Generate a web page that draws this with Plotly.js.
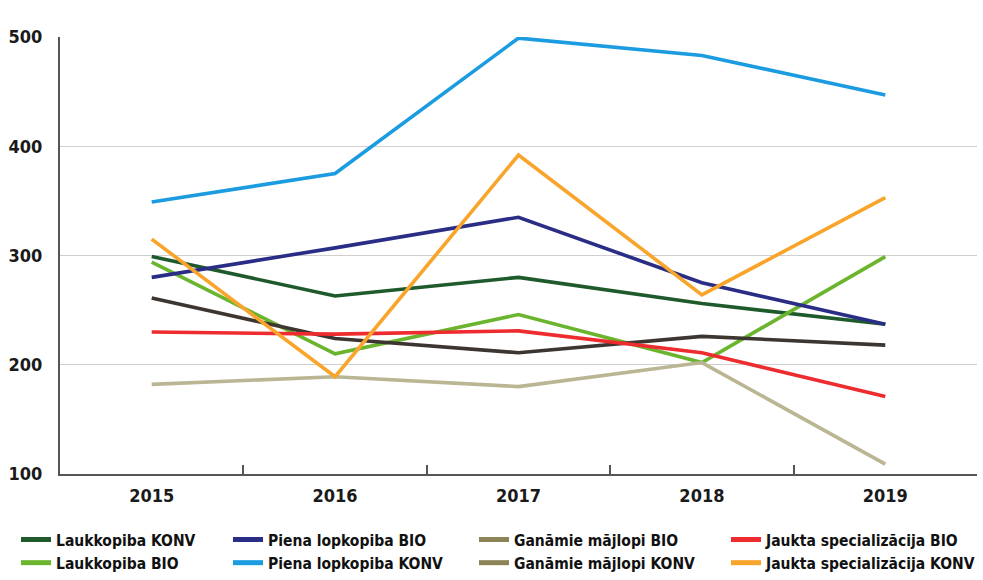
<!DOCTYPE html>
<html>
<head>
<meta charset="utf-8">
<script src="https://cdn.plot.ly/plotly-3.0.1.min.js"></script>
<style>html,body{margin:0;padding:0;background:#fff;}#chart{width:983px;height:580px;}</style>
</head>
<body>
<div id="chart"></div>
<script>
const years = ['2015', '2016', '2017', '2018', '2019'];

const laukkopibaKONV = [299, 263, 280, 256, 237];
const laukkopibaBIO = [294, 210, 246, 202, 299];
const pienaBIO = [280, 307, 335, 275, 237];
const pienaKONV = [349, 375, 499, 483, 447];
const ganamieBIO = [261, 224, 211, 226, 218];
const ganamieKONV = [182, 189, 180, 202, 109];
const jauktaBIO = [230, 228, 231, 211, 171];
const jauktaKONV = [315, 189, 392, 264, 353];

const seriesNames = [
  'Laukkopiba KONV', 'Laukkopiba BIO',
  'Piena lopkopiba BIO', 'Piena lopkopiba KONV',
  'Ganāmie mājlopi BIO', 'Ganāmie mājlopi KONV',
  'Jaukta specializācija BIO', 'Jaukta specializācija KONV'
];
const seriesData = [laukkopibaKONV, laukkopibaBIO, pienaBIO, pienaKONV, ganamieBIO, ganamieKONV, jauktaBIO, jauktaKONV];
const lineColors = ['#1f5a2c', '#6bb52e', '#2a2d85', '#1b9be0', '#3d3530', '#bab693', '#ee2b2e', '#f9a42b'];
const legendColors = ['#1f5a2c', '#6bb52e', '#2a2d85', '#1b9be0', '#8a8457', '#8a8457', '#ee2b2e', '#f9a42b'];
const legendIds = ['legend', 'legend', 'legend2', 'legend2', 'legend3', 'legend3', 'legend4', 'legend4'];

const font = '"DejaVu Sans Condensed", "DejaVu Sans", sans-serif';

const traces = [];
seriesData.forEach((d, i) => {
  traces.push({
    x: years, y: d, type: 'scatter', mode: 'lines',
    line: {color: lineColors[i], width: 3.6},
    showlegend: false, hoverinfo: 'skip'
  });
});
seriesNames.forEach((n, i) => {
  traces.push({
    x: [null], y: [null], type: 'scatter', mode: 'lines', name: n,
    line: {color: legendColors[i], width: 5}, showlegend: true, legend: legendIds[i]
  });
});

function legendAt(px) {
  return {
    orientation: 'v', x: (px - 60) / 917, xanchor: 'left', y: -0.112, yanchor: 'top',
    font: {family: font, size: 15.5, color: '#111', weight: 'bold'},
    itemwidth: 30, traceorder: 'normal', tracegroupgap: 0, bgcolor: 'rgba(0,0,0,0)'
  };
}

const layout = {
  width: 983, height: 580,
  margin: {l: 60, r: 6, t: 37, b: 106, autoexpand: false},
  paper_bgcolor: '#fff', plot_bgcolor: '#fff',
  font: {family: font, color: '#1a1a1a', size: 17},
  xaxis: {
    type: 'category', range: [-0.5, 4.5],
    showgrid: false, showline: true, linecolor: '#555', linewidth: 2,
    ticks: 'inside', tickson: 'boundaries', ticklen: 9, tickcolor: '#555', tickwidth: 2,
    tickfont: {family: font, size: 18, color: '#1a1a1a', weight: 'bold'},
    zeroline: false, automargin: false, ticklabelstandoff: 4
  },
  yaxis: {
    range: [100, 500], tickvals: [100, 200, 300, 400, 500],
    showgrid: true, gridcolor: '#cfcfcf', gridwidth: 1.2,
    showline: true, linecolor: '#555', linewidth: 2, ticks: '',
    tickfont: {family: font, size: 18, color: '#1a1a1a', weight: 'bold'},
    zeroline: false, ticklabelstandoff: 12, automargin: false
  },
  showlegend: true,
  legend: legendAt(16),
  legend2: legendAt(228),
  legend3: legendAt(474),
  legend4: legendAt(726)
};

Plotly.newPlot('chart', traces, layout, {displayModeBar: false, staticPlot: true});
</script>
</body>
</html>
